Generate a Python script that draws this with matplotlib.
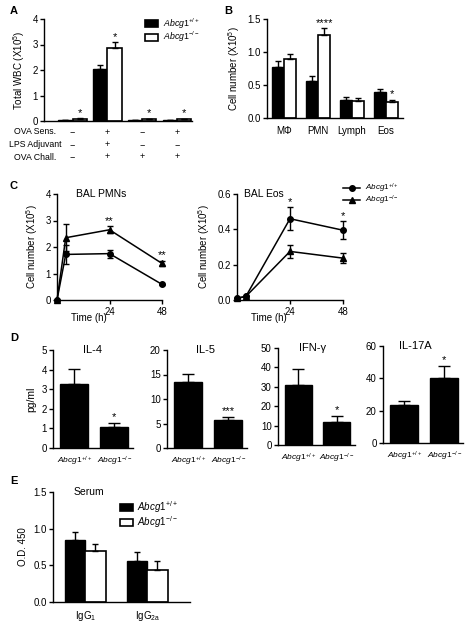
import numpy as np
import matplotlib
matplotlib.use('Agg')
from matplotlib import pyplot as plt
from matplotlib.patches import Rectangle
from matplotlib.lines import Line2D
import matplotlib.transforms as mtransforms

# ---- data ----
# A: total WBC
a_wt = [0.02, 2.03, 0.02, 0.02]
a_wt_err = [0.01, 0.18, 0.01, 0.01]
a_ko = [0.08, 2.87, 0.06, 0.06]
a_ko_err = [0.02, 0.22, 0.02, 0.02]
a_stars = ['*', '*', '*', '*']
a_rows = ['OVA Sens.', 'LPS Adjuvant', 'OVA Chall.']
a_signs = [['\u2212', '+', '\u2212', '+'],
           ['\u2212', '+', '\u2212', '\u2212'],
           ['\u2212', '+', '+', '+']]

# B: cell types
b_cats = ['M\u03a6', 'PMN', 'Lymph', 'Eos']
b_wt = [0.78, 0.56, 0.28, 0.39]
b_wt_err = [0.08, 0.07, 0.035, 0.055]
b_ko = [0.89, 1.26, 0.26, 0.24]
b_ko_err = [0.08, 0.10, 0.045, 0.035]
b_stars = ['', '****', '', '*']

# C: time course
c_time = [0, 4, 24, 48]
pmn_wt = [0, 1.72, 1.75, 0.59]
pmn_wt_err = [0, 0.35, 0.15, 0.03]
pmn_ko = [0, 2.35, 2.65, 1.38]
pmn_ko_err = [0, 0.5, 0.13, 0.1]
pmn_stars = ['', '', '**', '**']
eos_wt = [0.01, 0.02, 0.46, 0.395]
eos_wt_err = [0, 0, 0.065, 0.05]
eos_ko = [0.01, 0.02, 0.275, 0.237]
eos_ko_err = [0, 0, 0.035, 0.03]
eos_stars = ['', '', '*', '*']

# D: cytokines
d_names = ['IL-4', 'IL-5', 'IFN-\u03b3', 'IL-17A']
d_vals = [[3.28, 1.06], [13.5, 5.65], [31.0, 11.8], [23.2, 40.5]]
d_errs = [[0.77, 0.24], [1.6, 0.7], [8.0, 3.2], [2.5, 7.3]]
d_stars = ['*', '***', '*', '*']
d_ymax = [5, 20, 50, 60]
d_ystep = [1, 5, 10, 20]

# E: serum IgG
e_cats = [r'$\mathregular{IgG_1}$', r'$\mathregular{IgG_{2a}}$']
e_wt = [0.84, 0.56]
e_wt_err = [0.115, 0.12]
e_ko = [0.69, 0.43]
e_ko_err = [0.105, 0.125]

lab_wt = r'$Abcg1^{+/+}$'
lab_ko = r'$Abcg1^{-/-}$'

plt.rcParams['font.family'] = ['Liberation Sans', 'DejaVu Sans']
plt.rcParams['mathtext.fontset'] = 'custom'
plt.rcParams['mathtext.rm'] = 'Liberation Sans'
plt.rcParams['mathtext.it'] = 'Liberation Sans:italic'
plt.rcParams['mathtext.default'] = 'it'
plt.rcParams['axes.linewidth'] = 1.0
plt.rcParams['xtick.major.width'] = 1.0
plt.rcParams['ytick.major.width'] = 1.0
plt.rcParams['xtick.major.size'] = 3
plt.rcParams['ytick.major.size'] = 3
plt.rcParams['xtick.major.pad'] = 2
plt.rcParams['ytick.major.pad'] = 1.5
plt.rcParams['font.size'] = 6.5

W, H = 471, 624
fig = plt.figure(figsize=(W / 100, H / 100), dpi=100)


def fx(px):
    return px / W


def fy(py):
    return 1 - py / H


def add_ax(x0, y0, x1, y1):
    ax = fig.add_axes([x0 / W, 1 - y1 / H, (x1 - x0) / W, (y1 - y0) / H])
    ax.spines['top'].set_visible(False)
    ax.spines['right'].set_visible(False)
    return ax


def star(ax, x, y, s, off=2.5):
    if s:
        ax.annotate(s, (x, y), xytext=(0, off), textcoords='offset points',
                    ha='center', va='center', fontsize=8)


def panel_label(x, y, s):
    fig.text(fx(x), fy(y), s, fontsize=8, fontweight='bold', ha='left', va='center')


def box_legend(x, rows, textx, fs=7):
    for y, fc, lab in zip(rows, ['k', 'w'], [lab_wt, lab_ko]):
        fig.add_artist(Rectangle((fx(x), fy(y + 3.5)), 13 / W, 7 / H, facecolor=fc,
                                 edgecolor='k', linewidth=1.2, transform=fig.transFigure))
        fig.text(fx(textx), fy(y), lab, fontsize=fs, ha='left', va='center')


def line_legend(x, rows, textx, fs=6.5):
    for y, m, lab in zip(rows, ['o', '^'], [lab_wt, lab_ko]):
        fig.add_artist(Line2D([fx(x), fx(x + 17)], [fy(y), fy(y)], color='k', lw=1.1,
                              transform=fig.transFigure))
        fig.add_artist(Line2D([fx(x + 8.5)], [fy(y)], color='k', marker=m, markersize=4,
                              transform=fig.transFigure))
        fig.text(fx(textx), fy(y), lab, fontsize=fs, ha='left', va='center')


def grouped(ax, x, v1, e1, v2, e2, bw):
    ax.bar(x - bw / 2, v1, bw, color='k', edgecolor='k', linewidth=1)
    ax.bar(x + bw / 2, v2, bw, color='w', edgecolor='k', linewidth=1.2)
    ax.errorbar(x - bw / 2, v1, yerr=[np.zeros(len(v1)), e1], fmt='none',
                ecolor='k', elinewidth=1, capsize=2.5, capthick=1)
    ax.errorbar(x + bw / 2, v2, yerr=[np.zeros(len(v2)), e2], fmt='none',
                ecolor='k', elinewidth=1, capsize=2.5, capthick=1)


# ---- panel A ----
ax = add_ax(44, 19, 192, 121)
x = np.arange(4)
bw = 0.41
grouped(ax, x, a_wt, a_wt_err, a_ko, a_ko_err, bw)
for i in range(4):
    star(ax, x[i] + bw / 2, a_ko[i] + a_ko_err[i], a_stars[i], off=4)
ax.set_xlim(-0.82, 3.43)
ax.set_ylim(0, 4)
ax.set_yticks([0, 1, 2, 3, 4])
ax.set_xticks([])
ax.tick_params(labelsize=7)
ax.set_ylabel(r'Total WBC (X10$\mathregular{^5}$)', fontsize=7)
trans = mtransforms.blended_transform_factory(ax.transData, ax.transAxes)
for r, name in enumerate(a_rows):
    yy = -(132 + 12.5 * r - 121) / 102
    fig.text(fx(35), fy(132 + 12.5 * r), name, ha='center', va='center', fontsize=6.3)
    for i in range(4):
        ax.text(x[i], yy, a_signs[r][i], transform=trans, ha='center', va='center', fontsize=6.5)
box_legend(145, [23.5, 37], 163, fs=6.3)
panel_label(10, 11, 'A')

# ---- panel B ----
ax = add_ax(267, 19, 403, 118)
x = np.arange(4)
bw = 0.36
grouped(ax, x, b_wt, b_wt_err, b_ko, b_ko_err, bw)
for i in range(4):
    star(ax, x[i] + bw / 2, b_ko[i] + b_ko_err[i], b_stars[i], off=4)
ax.set_xlim(-0.51, 3.51)
ax.set_ylim(0, 1.5)
ax.set_yticks([0, 0.5, 1.0, 1.5])
ax.set_yticklabels(['0.0', '0.5', '1.0', '1.5'])
ax.set_xticks(x)
ax.set_xticklabels(b_cats)
ax.tick_params(axis='x', length=0, pad=6)
ax.tick_params(labelsize=7)
ax.set_ylabel(r'Cell number (X10$\mathregular{^5}$)', fontsize=7)
panel_label(224, 11, 'B')

# ---- panel C ----
for (x0, x1, title, wt, wte, ko, koe, stars, ymax, yt, ytl, tx) in [
        (57, 162, 'BAL PMNs', pmn_wt, pmn_wt_err, pmn_ko, pmn_ko_err, pmn_stars, 4,
         [0, 1, 2, 3, 4], ['0', '1', '2', '3', '4'], 0.42),
        (237, 343, 'BAL Eos', eos_wt, eos_wt_err, eos_ko, eos_ko_err, eos_stars, 0.6,
         [0, 0.2, 0.4, 0.6], ['0.0', '0.2', '0.4', '0.6'], 0.25)]:
    ax = add_ax(x0, 194, x1, 300)
    ax.errorbar(c_time, wt, yerr=wte, color='k', marker='o', markersize=4, lw=1.1,
                capsize=2.5, elinewidth=1, capthick=1, clip_on=False)
    ax.errorbar(c_time, ko, yerr=koe, color='k', marker='^', markersize=4, lw=1.1,
                capsize=2.5, elinewidth=1, capthick=1, clip_on=False)
    top = [max(a + b, c + d) for a, b, c, d in zip(wt, wte, ko, koe)]
    for i in range(4):
        star(ax, c_time[i], top[i], stars[i], off=4)
    ax.set_xlim(0, 48)
    ax.set_ylim(0, ymax)
    ax.set_xticks([24, 48])
    ax.set_yticks(yt)
    ax.set_yticklabels(ytl)
    ax.tick_params(labelsize=7)
    ax.set_ylabel(r'Cell number (X10$\mathregular{^5}$)', fontsize=7)
    ax.text(0.3, -0.17, 'Time (h)', transform=ax.transAxes, ha='center', va='center', fontsize=7)
    ax.text(tx, 1.0, title, transform=ax.transAxes, ha='center', va='center', fontsize=7.5)
line_legend(343, [188, 200], 365, fs=5.8)
panel_label(10, 186, 'C')

# ---- panel D ----
d_boxes = [(53, 350, 133, 448), (167, 350, 247, 448), (278, 348, 355, 445), (383, 346, 463, 443)]
d_tx = [0.49, 0.48, 0.45, 0.40]
for k in range(4):
    ax = add_ax(*d_boxes[k])
    x = np.arange(2)
    ax.bar(x, d_vals[k], 0.7, color='k', edgecolor='k')
    ax.errorbar(x, d_vals[k], yerr=[[0, 0], d_errs[k]], fmt='none', ecolor='k',
                elinewidth=1, capsize=4, capthick=1)
    star(ax, x[1], d_vals[k][1] + d_errs[k][1], d_stars[k], off=4)
    ax.set_xlim(-0.53, 1.47)
    ax.set_ylim(0, d_ymax[k])
    ax.set_yticks(np.arange(0, d_ymax[k] + 1, d_ystep[k]))
    ax.set_xticks(x)
    ax.set_xticklabels([lab_wt, lab_ko], fontsize=6)
    ax.tick_params(axis='x', length=0, pad=5)
    ax.tick_params(axis='y', labelsize=7)
    ax.text(d_tx[k], 1.0, d_names[k], transform=ax.transAxes, ha='center', va='center', fontsize=8)
    if k == 0:
        ax.set_ylabel('pg/ml', fontsize=7.5)
panel_label(10, 338, 'D')

# ---- panel E ----
ax = add_ax(53, 492, 190, 602)
x = np.arange(2)
bw = 0.33
grouped(ax, x, e_wt, e_wt_err, e_ko, e_ko_err, bw)
ax.set_xlim(-0.52, 1.69)
ax.set_ylim(0, 1.5)
ax.set_yticks([0, 0.5, 1.0, 1.5])
ax.set_yticklabels(['0.0', '0.5', '1.0', '1.5'])
ax.set_xticks(x)
ax.set_xticklabels(e_cats)
ax.tick_params(axis='x', length=0, pad=5)
ax.tick_params(labelsize=7)
ax.set_ylabel('O.D. 450', fontsize=7)
ax.text(0.26, 1.0, 'Serum', transform=ax.transAxes, ha='center', va='center', fontsize=7.5)
box_legend(120, [507.5, 522], 137)
panel_label(10, 481, 'E')

fig.savefig('out.png', dpi=100)
